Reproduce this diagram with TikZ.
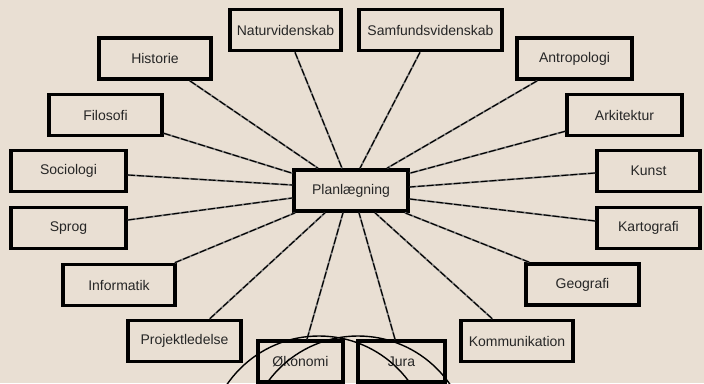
\documentclass[tikz,border=0pt]{standalone}
\usepackage{fontspec}
\setmainfont{Liberation Sans}
\definecolor{baggrund}{RGB}{233,223,211}
\tikzset{
  fag/.style={draw=black, line width=3.6pt, fill=baggrund, text=black!85,
    minimum width=113pt, minimum height=41pt, inner sep=0pt,
    font=\fontsize{14}{16}\selectfont},
  link/.style={draw=black!50, line width=1.8pt,
    postaction={draw=black, line width=1.1pt, dash pattern=on 7pt off 2pt}},
  bue/.style={draw=black, line width=1.4pt}
}
\begin{document}
\begin{tikzpicture}[x=1pt,y=1pt,yscale=-1,xscale=1]
\useasboundingbox (0,0) rectangle (704,383);
\fill[baggrund] (0,0) rectangle (704,383);
\clip (0,0) rectangle (704,383);

\node[fag, minimum width=114pt] (plan) at (351,190.5) {Planlægning};

\node[fag, minimum width=111pt] (natur) at (285.5,30) {Naturvidenskab};
\node[fag, minimum width=143pt] (samf) at (430.5,30) {Samfundsvidenskab};
\node[fag, minimum width=112pt] (hist) at (155,58.5) {Historie};
\node[fag, minimum width=115pt] (antro) at (574.5,58.5) {Antropologi};
\node[fag] (filo) at (105.5,115) {Filosofi};
\node[fag, minimum width=115pt] (ark) at (624.5,115) {Arkitektur};
\node[fag, minimum width=115pt] (soci) at (68.5,171) {Sociologi};
\node[fag, minimum width=103pt] (kunst) at (648.5,171) {Kunst};
\node[fag, minimum width=115pt] (sprog) at (68.5,228) {Sprog};
\node[fag, minimum width=103pt] (karto) at (648.5,228) {Kartografi};
\node[fag, minimum width=112pt] (info) at (119,285) {Informatik};
\node[fag] (geo) at (582.5,284.5) {Geografi};
\node[fag] (proj) at (184.5,341) {Projektledelse};
\node[fag, minimum width=112pt] (komm) at (517,341) {Kommunikation};
\node[fag, minimum width=85pt] (okon) at (300.5,361.5) {Økonomi};
\node[fag, minimum width=87pt] (jura) at (401.5,361.5) {Jura};

\draw[link] ([xshift=9.5pt]natur.south) -- ([xshift=-9pt]plan.north);
\draw[link] ([xshift=-10.5pt]samf.south) -- ([xshift=9pt]plan.north);
\draw[link] ([xshift=-23pt]hist.south east) -- ([xshift=-33pt]plan.north);
\draw[link] ([xshift=22pt]antro.south west) -- ([xshift=36pt]plan.north);
\draw[link] ([yshift=-4pt]filo.south east) -- ([yshift=5pt]plan.north west);
\draw[link] ([yshift=-6pt]ark.south west) -- ([yshift=5pt]plan.north east);
\draw[link] ([yshift=4pt]soci.east) -- ([yshift=-5.5pt]plan.west);
\draw[link] ([yshift=2pt]kunst.west) -- ([yshift=-3.5pt]plan.east);
\draw[link] ([yshift=-8pt]sprog.east) -- ([yshift=7.5pt]plan.west);
\draw[link] ([yshift=-7pt]karto.west) -- ([yshift=8.5pt]plan.east);
\draw[link] ([xshift=-2pt]info.north east) -- ([xshift=3pt]plan.south west);
\draw[link] ([xshift=5pt]geo.north west) -- ([xshift=-5pt]plan.south east);
\draw[link] ([xshift=-33pt]proj.north east) -- ([xshift=-26pt]plan.south);
\draw[link] ([xshift=33pt]komm.north west) -- ([xshift=24pt]plan.south);
\draw[link] ([xshift=6.5pt]okon.north) -- ([xshift=-8pt]plan.south);
\draw[link] ([xshift=-6.5pt]jura.north) -- ([xshift=8pt]plan.south);

\draw[bue] (319,447.6) circle [radius=111.6];
\draw[bue] (358,447.6) circle [radius=111.6];
\end{tikzpicture}
\end{document}
